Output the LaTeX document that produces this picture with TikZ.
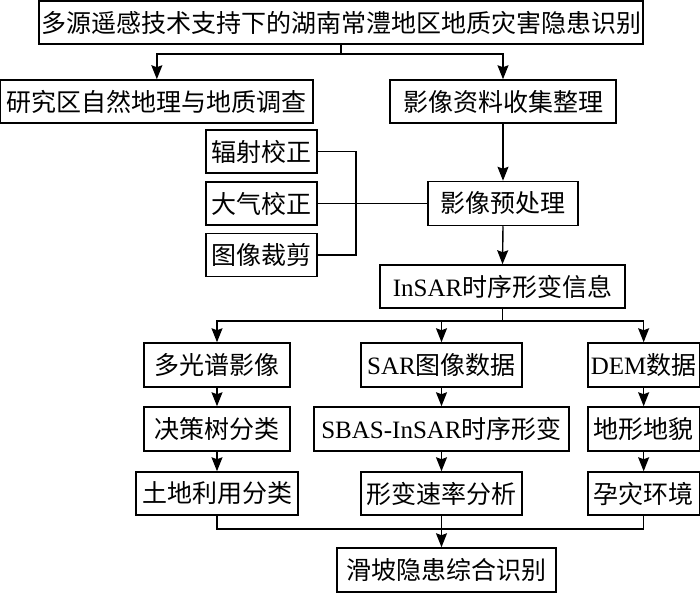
\documentclass[tikz,border=0pt]{standalone}
\usepackage{fontspec}
\setmainfont{Liberation Serif}
\newfontfamily\cjk{Noto Sans CJK SC}
\usetikzlibrary{arrows.meta}
\begin{document}
\begin{tikzpicture}[x=1pt,y=-1pt,
  box/.style={draw, line width=1.5pt, inner sep=0pt, font=\fontsize{25}{30}\selectfont\cjk},
  con/.style={line width=1.4pt},
  arr/.style={con, -{Stealth[length=14pt,width=11pt,inset=2pt]}}]
\useasboundingbox (0,0) rectangle (700,593);
\fill[white] (0,0) rectangle (700,593);
% nodes
\node[box, minimum width=604, minimum height=43] (title) at (341,22.5) {多源遥感技术支持下的湖南常澧地区地质灾害隐患识别};
\node[box, minimum width=312.3, minimum height=43] (study) at (156.85,101.5) {研究区自然地理与地质调查};
\node[box, minimum width=226, minimum height=43] (collect) at (503,101.5) {影像资料收集整理};
\node[box, minimum width=111, minimum height=43] (rad) at (261.5,151.5) {辐射校正};
\node[box, minimum width=111, minimum height=43] (atm) at (261.5,203.5) {大气校正};
\node[box, minimum width=111, minimum height=43] (crop) at (261.5,255) {图像裁剪};
\node[box, minimum width=150, minimum height=44] (pre) at (503,203.5) {影像预处理};
\node[box, minimum width=245, minimum height=43] (insar) at (502.5,286.5) {{\rmfamily InSAR}时序形变信息};
\node[box, minimum width=146, minimum height=44] (ms) at (217,365) {多光谱影像};
\node[box, minimum width=161, minimum height=44] (sar) at (441.5,365) {{\rmfamily SAR}图像数据};
\node[box, minimum width=111.3, minimum height=44] (dem) at (643.65,365) {{\rmfamily DEM}数据};
\node[box, minimum width=146, minimum height=44] (dt) at (217,429) {决策树分类};
\node[box, minimum width=255, minimum height=44] (sbas) at (441.5,429) {{\rmfamily SBAS-InSAR}时序形变};
\node[box, minimum width=111.3, minimum height=44] (topo) at (643.65,429) {地形地貌};
\node[box, minimum width=162, minimum height=43] (lu) at (217,493.5) {土地利用分类};
\node[box, minimum width=161, minimum height=43] (rate) at (441.5,493.5) {形变速率分析};
\node[box, minimum width=111.3, minimum height=43] (env) at (643.65,493.5) {孕灾环境};
\node[box, minimum width=219, minimum height=44] (final) at (446.5,570) {滑坡隐患综合识别};
% junctions
\coordinate (j1) at (341,54);
\coordinate (j2) at (502.5,321);
\coordinate (j3) at (441.5,529);
\coordinate (br) at (356,203.5);
% connectors
\draw[con] (title.south) -- (j1);
\draw[arr] (j1) -| (study.north);
\draw[arr] (j1) -| (collect.north);
\draw[arr] (collect.south) -- (pre.north);
\draw[con] (rad.east) -| (br) |- (crop.east);
\draw[con] (atm.east) -- (pre.west);
\draw[arr] (pre.south) -- (insar.north);
\draw[con] (insar.south) -- (j2);
\draw[arr] (j2) -| (ms.north);
\draw[arr] (j2) -| (sar.north);
\draw[arr] (j2) -| (dem.north);
\draw[arr] (ms.south) -- (dt.north);
\draw[arr] (sar.south) -- (sbas.north);
\draw[arr] (dem.south) -- (topo.north);
\draw[arr] (dt.south) -- (lu.north);
\draw[arr] (sbas.south) -- (rate.north);
\draw[arr] (topo.south) -- (env.north);
\draw[con] (lu.south) |- (j3);
\draw[con] (env.south) |- (j3);
\draw[arr] (rate.south) -- (rate.south |- final.north);
\end{tikzpicture}
\end{document}
